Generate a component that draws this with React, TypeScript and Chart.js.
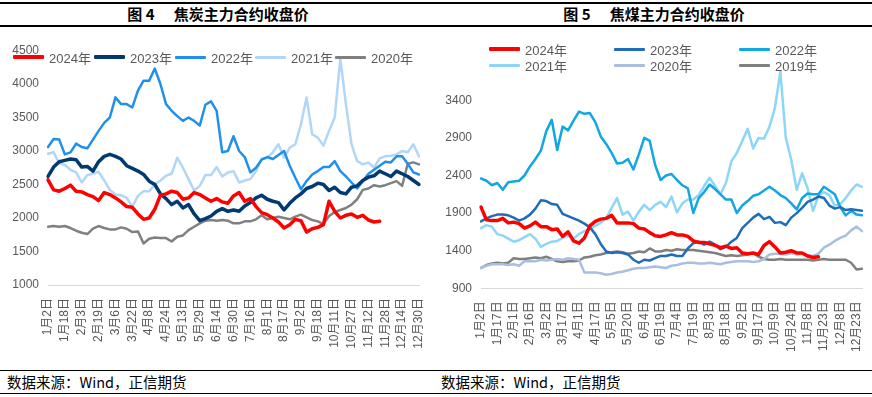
import React, { useEffect, useRef } from "react";
import { Chart, registerables } from "chart.js";

Chart.register(...registerables);

// ---------- Data: 焦炭 (coke) ----------
const cokeTicks = ["1月2日", "1月18日", "2月3日", "2月19日", "3月6日", "3月22日", "4月8日", "4月24日", "5月13日", "5月29日", "6月14日", "6月30日", "7月16日", "8月1日", "8月17日", "9月2日", "9月18日", "10月11日", "10月27日", "11月12日", "11月28日", "12月14日", "12月30日"];
const cokeStep = 3;
const coke2024 = [2570, 2420, 2400, 2440, 2490, 2400, 2390, 2350, 2320, 2260,
  2380, 2350, 2300, 2240, 2170, 2160, 2060, 1980, 2000, 2130,
  2340, 2360, 2400, 2380, 2280, 2300, 2380, 2350, 2300, 2250,
  2290, 2240, 2220, 2330, 2380, 2250, 2290, 2170, 2080, 2050,
  2000, 1940, 1850, 1900, 1980, 1960, 1790, 1840, 1860, 1900,
  2250, 2100, 2000, 2040, 2060, 2010, 2040, 1970, 1940, 1950,
  null, null, null, null, null, null, null];
const coke2023 = [2620, 2760, 2840, 2860, 2880, 2870, 2760, 2770, 2700, 2840,
  2920, 2950, 2920, 2880, 2780, 2740, 2700, 2650, 2550, 2500,
  2360, 2290, 2200, 2250, 2150, 2200, 2060, 1960, 1990, 2030,
  2100, 2140, 2100, 2120, 2100, 2180, 2230, 2300, 2340, 2280,
  2250, 2230, 2120, 2220, 2300, 2360, 2440, 2470, 2520, 2500,
  2410, 2460, 2380, 2360, 2460, 2480, 2560, 2610, 2630, 2700,
  2660, 2620, 2700, 2660, 2620, 2560, 2500];
const coke2022 = [3060, 3180, 3170, 2950, 2980, 3110, 3060, 3040, 3170, 3300,
  3420, 3500, 3800, 3700, 3700, 3650, 3900, 4050, 4050, 4230,
  4000, 3700, 3600, 3520, 3450, 3500, 3450, 3380, 3690, 3740,
  3600, 2980, 3000, 3220, 3000, 2910, 2680, 2750, 2870, 2910,
  2880, 2940, 3000, 2780, 2600, 2430, 2550, 2650, 2700, 2760,
  2760, 2850, 2700, 2620, 2530, 2440, 2550, 2660, 2720, 2780,
  2840, 2830, 2920, 2920, 2810, 2680, 2650];
const coke2021 = [2960, 2980, 2820, 2790, 2720, 2680, 2530, 2640, 2660, 2690,
  2560, 2420, 2350, 2340, 2300, 2170, 2330, 2400, 2400, 2500,
  2560, 2630, 2660, 2900, 2750, 2580, 2410, 2480, 2640, 2640,
  2760, 2620, 2680, 2700, 2530, 2560, 2580, 2700, 2880, 2900,
  2980, 3100, 2900, 3050, 3100, 3400, 3800, 3250, 3200, 3080,
  3300, 3500, 4380, 3700, 3100, 2850, 2800, 2830, 2750, 2890,
  2920, 2930, 2950, 3000, 2980, 3100, 2920];
const coke2020 = [1870, 1880, 1870, 1880, 1850, 1810, 1780, 1760, 1840, 1880,
  1850, 1830, 1830, 1860, 1840, 1790, 1800, 1620, 1690, 1710,
  1700, 1700, 1650, 1720, 1740, 1820, 1870, 1920, 1960, 1970,
  1960, 1970, 1960, 1920, 1920, 1950, 1950, 1980, 2040, 1980,
  2000, 2020, 2000, 1980, 2020, 2050, 2010, 1970, 1950, 1910,
  2030, 2090, 2120, 2150, 2200, 2280, 2420, 2440, 2490, 2470,
  2490, 2520, 2550, 2480, 2810, 2830, 2800];

// ---------- Data: 焦煤 (coking coal) ----------
const coalTicks = ["1月2日", "1月17日", "2月1日", "2月16日", "3月2日", "3月17日", "4月1日", "4月17日", "5月5日", "5月20日", "6月4日", "6月19日", "7月4日", "7月19日", "8月3日", "8月18日", "9月2日", "9月17日", "10月9日", "10月24日", "11月8日", "11月23日", "12月8日", "12月23日"];
const coalStep = 3;
const coal2024 = [1980, 1810, 1800, 1800, 1830, 1770, 1780, 1760, 1700, 1730,
  1780, 1720, 1720, 1680, 1690, 1590, 1650, 1530, 1500, 1570,
  1730, 1790, 1820, 1830, 1870, 1770, 1770, 1770, 1760, 1700,
  1690, 1640, 1600, 1590, 1610, 1640, 1610, 1610, 1590, 1530,
  1510, 1510, 1490, 1470, 1440, 1460, 1430, 1440, 1370, 1360,
  1370, 1350, 1470, 1520, 1450, 1370, 1380, 1400, 1370, 1370,
  1330, 1310, 1320, null, null, null, null, null, null, null, null];
const coal2023 = [1790, 1830, 1860, 1880, 1880, 1870, 1840, 1800, 1830, 1880,
  1960, 2070, 2060, 2020, 2010, 1890, 1860, 1830, 1800, 1760,
  1710, 1620, 1490, 1390, 1370, 1380, 1370, 1350, 1280, 1240,
  1280, 1270, 1300, 1330, 1330, 1350, 1330, 1330, 1430, 1500,
  1520, 1480, 1520, 1480, 1420, 1450, 1520, 1570, 1700, 1770,
  1840, 1890, 1820, 1850, 1770, 1780, 1740, 1840, 1900, 1970,
  2050, 2080, 2120, 2100, 2000, 1960, 1980, 1940, 1950, 1940, 1930];
const coal2022 = [2360, 2330, 2270, 2300, 2210, 2310, 2320, 2330, 2400, 2520,
  2620, 2730, 2990, 3140, 2740, 3050, 3000, 3130, 3250, 3220,
  3230, 3110, 2920, 2820, 2700, 2560, 2570, 2620, 2480, 2680,
  2900, 2860, 2540, 2340, 2400, 2420, 2340, 2270, 2230, 1900,
  2100, 2180, 2280, 2220, 2150, 2080, 2080, 1900, 2000, 2060,
  2130, 2150, 2200, 2250, 2200, 2140, 2100, 2030, 1950, 2100,
  2160, 2150, 2150, 2250, 2200, 2150, 1980, 1870, 1930, 1880, 1870];
const coal2021 = [1700, 1740, 1720, 1620, 1600, 1560, 1520, 1540, 1580, 1620,
  1560, 1450, 1490, 1520, 1530, 1570, 1600, 1560, 1620, 1660,
  1690, 1730, 1770, 1830, 1970, 2100, 1880, 1920, 1800, 1920,
  2010, 1940, 2010, 2050, 1980, 2120, 1910, 2030, 2080, 2080,
  2140, 2260, 2370, 2260, 2150, 2300, 2590, 2700, 2860, 3020,
  2760, 2900, 2890, 3050, 3300, 3780, 2900, 2610, 2210, 2430,
  2230, 1930, 2130, 2180, 2140, 2000, 2020, 2100, 2200, 2280, 2250];
const coal2020 = [1170, 1200, 1220, 1220, 1220, 1210, 1220, 1200, 1260, 1260,
  1260, 1280, 1270, 1280, 1290, 1280, 1300, 1290, 1280, 1110,
  1110, 1110, 1100, 1080, 1090, 1110, 1120, 1140, 1160, 1170,
  1170, 1180, 1190, 1180, 1170, 1200, 1210, 1230, 1240, 1240,
  1230, 1230, 1240, 1230, 1220, 1240, 1250, 1260, 1260, 1260,
  1250, 1260, 1290, 1350, 1360, 1360, 1350, 1370, 1350, 1360,
  1340, 1330, 1360, 1440, 1480, 1530, 1570, 1600, 1670, 1720, 1660];
const coal2019 = [1170, 1210, 1230, 1240, 1230, 1240, 1300, 1290, 1290, 1300,
  1310, 1300, 1320, 1290, 1260, 1250, 1260, 1260, 1270, 1310,
  1320, 1340, 1350, 1370, 1380, 1390, 1380, 1360, 1370, 1390,
  1380, 1430, 1390, 1390, 1410, 1400, 1420, 1410, 1410, 1410,
  1400, 1390, 1380, 1370, 1350, 1330, 1340, 1330, 1340, 1350,
  1370, 1320, 1290, 1280, 1280, 1290, 1280, 1280, 1280, 1280,
  1280, 1270, 1280, 1290, 1280, 1280, 1280, 1280, 1240, 1150, 1160];

// ---------- Styling ----------
const FONT = '"Liberation Sans", "Noto Sans CJK SC", sans-serif';
const CJK = '"Noto Sans CJK SC", sans-serif';
const TXT = "#595959";

type Series = { name: string; data: (number | null)[]; color: string; width: number };

const cokeSeries: Series[] = [
  { name: "2024年", data: coke2024, color: "#FF0000", width: 3.5 },
  { name: "2023年", data: coke2023, color: "#003A70", width: 3.5 },
  { name: "2022年", data: coke2022, color: "#2090EC", width: 2.5 },
  { name: "2021年", data: coke2021, color: "#B2D6F6", width: 2.5 },
  { name: "2020年", data: coke2020, color: "#808080", width: 2.5 },
];
const coalSeries: Series[] = [
  { name: "2024年", data: coal2024, color: "#FF0000", width: 3.5 },
  { name: "2023年", data: coal2023, color: "#1F6DB8", width: 2.5 },
  { name: "2022年", data: coal2022, color: "#12A6E2", width: 2.5 },
  { name: "2021年", data: coal2021, color: "#8ED6F7", width: 2.5 },
  { name: "2020年", data: coal2020, color: "#A8BFE2", width: 2.5 },
  { name: "2019年", data: coal2019, color: "#7F7F7F", width: 2.5 },
];

function buildLabels(ticks: string[], step: number, n: number): string[] {
  return Array.from({ length: n }, (_, i) =>
    i % step === 0 && ticks[i / step] ? ticks[i / step] : ""
  );
}

type LCProps = {
  series: Series[]; ticks: string[]; step: number;
  yMin: number; yMax: number; yStep: number; hideAbove: number;
  width: number; height: number; padTop: number; padRight: number;
  yWidth: number; xHeight: number;
};

function LineChart(p: LCProps) {
  const ref = useRef<HTMLCanvasElement>(null);
  useEffect(() => {
    const n = p.series[0].data.length;
    const chart = new Chart(ref.current as HTMLCanvasElement, {
      type: "line",
      data: {
        labels: buildLabels(p.ticks, p.step, n),
        datasets: p.series.map((s) => ({
          label: s.name,
          data: s.data,
          borderColor: s.color,
          backgroundColor: s.color,
          borderWidth: s.width,
          pointRadius: 0,
          tension: 0,
          fill: false,
          borderJoinStyle: "round" as const,
          borderCapStyle: "round" as const,
        })),
      },
      options: {
        responsive: false,
        animation: false,
        layout: { padding: { top: p.padTop, right: p.padRight, left: 0, bottom: 0 } },
        plugins: { legend: { display: false }, tooltip: { enabled: false } },
        scales: {
          x: {
            type: "category",
            grid: { display: false, drawTicks: false },
            border: { display: true, color: "#D9D9D9", width: 1 },
            ticks: {
              autoSkip: false, minRotation: 90, maxRotation: 90, padding: 13,
              color: TXT, font: { family: FONT, size: 12 },
            },
            afterFit: (s: any) => { s.height = p.xHeight; s.paddingLeft = 0; s.paddingRight = 0; },
          },
          y: {
            min: p.yMin, max: p.yMax,
            grid: { display: false, drawTicks: false },
            border: { display: false },
            ticks: {
              stepSize: p.yStep, padding: 9, color: TXT, font: { family: FONT, size: 12 },
              callback: (v: any) => (Number(v) > p.hideAbove ? "" : String(v)),
            },
            afterFit: (s: any) => { s.width = p.yWidth; s.paddingTop = 0; s.paddingBottom = 0; },
          },
        },
      },
    });
    return () => chart.destroy();
  }, []);
  return <canvas ref={ref} width={p.width} height={p.height} style={{ display: "block" }} />;
}

function LegendItem({ s, left, top }: { s: Series; left: number; top: number }) {
  return (
    <div style={{ position: "absolute", left, top, height: 16, display: "flex", alignItems: "center", whiteSpace: "nowrap" }}>
      <div style={{ width: 31, height: s.width >= 3.5 ? 4 : 3, background: s.color, borderRadius: 1 }} />
      <span style={{ marginLeft: 5, font: `13px ${FONT}`, color: TXT }}>{s.name}</span>
    </div>
  );
}

function Frame({ left, title, num }: { left: number; title: string; num: string }) {
  const line = (top: number) => (
    <div style={{ position: "absolute", left: 0, width: 436, top, height: 1.5, background: "#000" }} />
  );
  return (
    <div style={{ position: "absolute", left, top: 0, width: 436, height: 397 }}>
      {line(2)}
      <div style={{ position: "absolute", left: 0, width: 436, top: 3, height: 22, lineHeight: "22px", textAlign: "center", font: `bold 15px ${CJK}`, color: "#000" }}>
        <span>图 {num}</span>
        <span style={{ marginLeft: 19 }}>{title}</span>
      </div>
      {line(25)}
      {line(369.5)}
      <div style={{ position: "absolute", left: left === 0 ? 7 : 5, top: 371, height: 22, lineHeight: "22px", font: `14.5px ${CJK}`, color: "#000", whiteSpace: "nowrap" }}>
        数据来源：Wind，正信期货
      </div>
      {line(392.5)}
    </div>
  );
}

export default function App() {
  const cokeLegendX = [13, 94, 175, 255, 335];
  const coalLegendPos = [
    [489, 41], [614, 41], [739, 41],
    [489, 57], [614, 57], [739, 57],
  ];
  return (
    <div style={{ position: "absolute", left: 0, top: 0, width: 872, height: 397, overflow: "hidden", background: "#fff" }}>
      <Frame left={0} num="4" title="焦炭主力合约收盘价" />
      <Frame left={436} num="5" title="焦煤主力合约收盘价" />
      <div style={{ position: "absolute", left: 0, top: 30 }}>
        <LineChart series={cokeSeries} ticks={cokeTicks} step={cokeStep}
          yMin={1000} yMax={4500} yStep={500} hideAbove={4500}
          width={436} height={338} padTop={20.5} padRight={17} yWidth={48} xHeight={83} />
      </div>
      <div style={{ position: "absolute", left: 436, top: 30 }}>
        <LineChart series={coalSeries} ticks={coalTicks} step={coalStep}
          yMin={900} yMax={3900} yStep={500} hideAbove={3400}
          width={436} height={338} padTop={32.7} padRight={10} yWidth={45} xHeight={79.7} />
      </div>
      {cokeSeries.map((s, i) => (
        <LegendItem key={"k" + i} s={s} left={cokeLegendX[i]} top={49} />
      ))}
      {coalSeries.map((s, i) => (
        <LegendItem key={"c" + i} s={s} left={coalLegendPos[i][0]} top={coalLegendPos[i][1]} />
      ))}
    </div>
  );
}
